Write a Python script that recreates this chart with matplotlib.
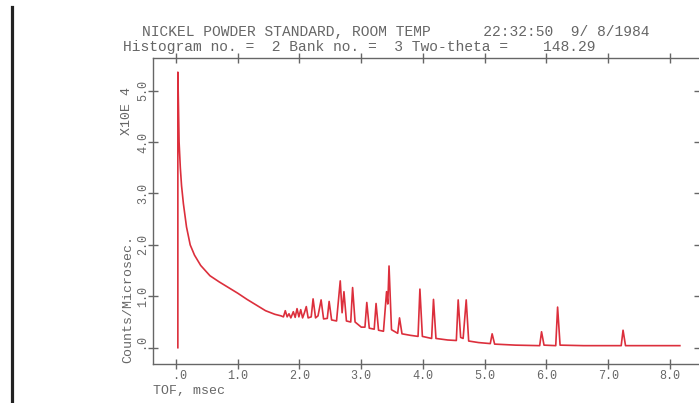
import matplotlib
matplotlib.use("Agg")
import matplotlib.pyplot as plt
from matplotlib.lines import Line2D

# time-of-flight (msec) and counts/microsec (x 10^4), traced profile points
tof_ms = [
    0.03, 0.03, 0.04, 0.05, 0.07, 0.09, 0.12, 0.17, 0.23, 0.30, 0.40, 0.55,
    0.70, 0.85, 1.00, 1.15, 1.30, 1.45, 1.60, 1.70, 1.74, 1.77, 1.80, 1.83,
    1.86, 1.90, 1.93, 1.96, 1.99, 2.02, 2.05, 2.08, 2.11, 2.14, 2.19, 2.22,
    2.26, 2.30, 2.35, 2.39, 2.45, 2.48, 2.52, 2.60, 2.66, 2.69, 2.72, 2.76,
    2.83, 2.86, 2.90, 3.00, 3.06, 3.09, 3.13, 3.21, 3.24, 3.28, 3.36, 3.41,
    3.43, 3.45, 3.49, 3.59, 3.62, 3.66, 3.80, 3.92, 3.95, 3.99, 4.14, 4.17,
    4.21, 4.40, 4.54, 4.57, 4.61, 4.65, 4.70, 4.74, 4.90, 5.09, 5.12, 5.16,
    5.50, 5.89, 5.92, 5.96, 6.15, 6.18, 6.22, 6.60, 7.21, 7.24, 7.28, 8.16,
]
counts = [
    0.00, 5.36, 4.70, 4.00, 3.50, 3.15, 2.80, 2.35, 2.00, 1.80, 1.60, 1.40,
    1.28, 1.17, 1.06, 0.94, 0.83, 0.72, 0.65, 0.62, 0.60, 0.72, 0.60, 0.66,
    0.58, 0.70, 0.59, 0.76, 0.60, 0.74, 0.58, 0.68, 0.80, 0.58, 0.60, 0.95,
    0.58, 0.62, 0.93, 0.56, 0.57, 0.90, 0.54, 0.52, 1.30, 0.68, 1.09, 0.52,
    0.50, 1.17, 0.50, 0.40, 0.40, 0.88, 0.38, 0.36, 0.86, 0.34, 0.32, 1.09,
    0.85, 1.59, 0.35, 0.28, 0.58, 0.27, 0.24, 0.22, 1.14, 0.22, 0.18, 0.94,
    0.18, 0.15, 0.14, 0.93, 0.20, 0.18, 0.93, 0.13, 0.10, 0.08, 0.27, 0.07,
    0.05, 0.04, 0.31, 0.05, 0.04, 0.79, 0.05, 0.04, 0.04, 0.34, 0.04, 0.04,
]

x_ticks = [0, 1, 2, 3, 4, 5, 6, 7, 8]
y_ticks = [0, 1, 2, 3, 4, 5]

title_1 = "NICKEL POWDER STANDARD, ROOM TEMP      22:32:50  9/ 8/1984"
title_2 = "Histogram no. =  2 Bank no. =  3 Two-theta =    148.29"

W, H = 699, 403
plt.rcParams['font.family'] = ['Liberation Mono', 'DejaVu Sans Mono']
grey = '#666666'

fig = plt.figure(figsize=(W / 100, H / 100), dpi=100)
fig.patch.set_facecolor('white')

def px(x, y):
    return x / W, 1 - y / H

left, bottom = px(153, 364)
ax = fig.add_axes([left, bottom, 1.0 - left, (364 - 58) / H])

ax.plot(tof_ms, counts, color='#dc2f3c', lw=1.2)

ax.set_xlim(-0.3725, 8.47)
ax.set_ylim(-0.317, 5.636)

def fmt(v):
    return '%3s' % ('.0' if v == 0 else '%.1f' % v)

ax.set_xticks(x_ticks)
ax.set_xticklabels([fmt(v) for v in x_ticks])
ax.set_yticks(y_ticks)
ax.set_yticklabels([fmt(v) for v in y_ticks], rotation=90, va='center')

ax.tick_params(axis='both', which='major', direction='inout', length=7,
               width=1, color=grey, labelcolor=grey, labelsize=8.5)
ax.tick_params(axis='x', top=True, pad=1)
ax.tick_params(axis='y', right=True, pad=-1)

for side in ['left', 'bottom', 'top']:
    ax.spines[side].set_color(grey)
    ax.spines[side].set_linewidth(1)
ax.spines['right'].set_visible(False)

fig.text(*px(153, 391), "TOF, msec", color=grey, fontsize=9.5,
         ha='left', va='center')
fig.text(*px(128, 363), "Counts/Microsec.", color=grey, fontsize=9.5,
         rotation=90, ha='center', va='bottom')
fig.text(*px(127, 87), "X10E 4", color=grey, fontsize=9.5,
         rotation=90, ha='center', va='top')

fig.text(*px(142, 32), title_1, color=grey, fontsize=10.5, ha='left', va='center')
fig.text(*px(123, 47.5), title_2, color=grey, fontsize=10.5, ha='left', va='center')

# page edge bar on the left
fig.add_artist(Line2D([11.5 / W, 11.5 / W], [0, 1 - 7 / H],
                      transform=fig.transFigure, color='#222222', lw=2.3))

fig.savefig('out.png', dpi=100)
